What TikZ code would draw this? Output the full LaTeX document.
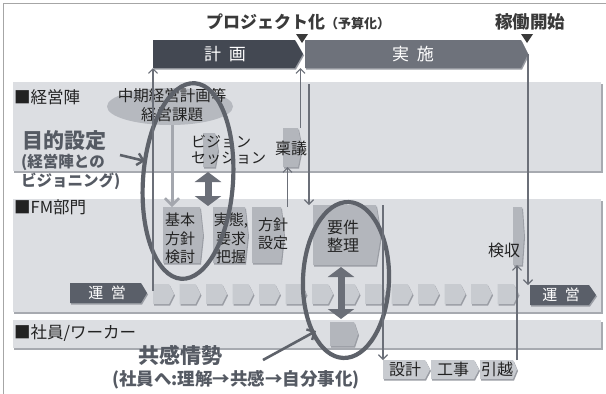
\documentclass[tikz,border=0pt]{standalone}
\usepackage{fontspec}
\newfontfamily\jp{Noto Sans CJK JP}
\usetikzlibrary{arrows.meta,shapes.geometric,fit}
\definecolor{bandc}{HTML}{DCDEE2}
\definecolor{bandsh}{HTML}{A7AAB0}
\definecolor{boxc}{HTML}{B3B6BC}
\definecolor{smallc}{HTML}{C8CBD0}
\definecolor{shadc}{HTML}{9A9DA4}
\definecolor{planc}{HTML}{434852}
\definecolor{jissc}{HTML}{6E727B}
\definecolor{uneic}{HTML}{5A5F69}
\definecolor{ellfill}{HTML}{B6B9BF}
\definecolor{ellc}{HTML}{5E626A}
\definecolor{arrc}{HTML}{6B6F78}
\definecolor{lightarr}{HTML}{A4A7AE}
\definecolor{headc}{HTML}{555A63}
\definecolor{textc}{HTML}{222222}
\definecolor{titlec}{HTML}{3A3A3A}
\newcommand\fs[2]{\fontsize{#1}{#2}\selectfont}
% chevron box: [fill]{name}{x1}{y1}{x2}{y2}{tip}
\newcommand\chevbox[7][boxc]{%
  \fill[shadc] ({#3+1},{#4+1.5}) -- ({#5-#7+1},{#4+1.5}) -- ({#5+1},{(#4+#6)/2+1.5}) -- ({#5-#7+1},{#6+1.5}) -- ({#3+1},{#6+1.5}) -- cycle;
  \fill[#1] (#3,#4) -- ({#5-#7},#4) -- (#5,{(#4+#6)/2}) -- ({#5-#7},#6) -- (#3,#6) -- cycle;
  \path (#3,#4) coordinate (#2-nw) (#5,#6) coordinate (#2-se);
  \node[fit=(#2-nw)(#2-se), inner sep=0pt, outer sep=0pt] (#2) {};
}
\tikzset{
  txt/.style={inner sep=0pt, text=textc},
  thinarr/.style={draw=arrc, line width=1.3pt, -{Straight Barb[length=4.5pt,width=9pt,line width=1.2pt]}},
  lightarrow/.style={draw=lightarr, line width=3pt, -{Straight Barb[length=7pt,width=14pt,line width=2.5pt]}},
  dblarr/.style={draw=arrc, line width=7pt, {Triangle[length=10pt,width=26pt]}-{Triangle[length=10pt,width=26pt]}},
  fatarr/.style={draw=ellc, line width=2.6pt, -{Straight Barb[length=6pt,width=12pt,line width=2.4pt]}},
  bigell/.style={draw=ellc, line width=4.2pt},
}
\begin{document}
\begin{tikzpicture}[x=1pt,y=-1pt]
\useasboundingbox (0,0) rectangle (606,394);
\fill[white] (0,0) rectangle (606,394);
% frame
\draw[gray!70, line width=0.8pt] (3,394) -- (3,3) -- (606,3);

% bands
\fill[bandsh] (14,84) rectangle (603,173);
\fill[bandc] (13,82) rectangle (601,171);
\fill[bandsh] (14,201) rectangle (603,314);
\fill[bandc] (13,199) rectangle (601,312);
\fill[bandsh] (14,322) rectangle (603,350);
\fill[bandc] (13,320) rectangle (601,348);

% header
\node[txt, anchor=west, text=titlec, font=\jp\bfseries\fs{17}{17}] (proj) at (206,22) {プロジェクト化\fs{13}{13}（予算化）};
\node[txt, text=titlec, font=\jp\bfseries\fs{17.5}{17.5}] (kado) at (530,22) {稼働開始};
\fill[titlec] (296,34) -- (308,34) -- (302,43) -- cycle;
\fill[titlec] (521,34) -- (533,34) -- (527,43) -- cycle;

\chevbox[planc]{plan}{153}{40}{303}{68}{8}
\chevbox[jissc]{jisshi}{305}{40}{528}{68}{7}
\node[txt, text=white, font=\jp\fs{17}{17}] (plant) at (225,54) {計\hspace{0.45em}画};
\node[txt, text=white, font=\jp\fs{17}{17}] (jisst) at (413,54) {実\hspace{0.45em}施};

% row 1: 経営陣
\node[txt, anchor=west, font=\jp\fs{16.5}{16.5}] (l1) at (14,97) {■経営陣};
\node[ellipse, fill=ellfill, minimum width=126pt, minimum height=37pt, inner sep=0pt] (chuki) at (170,106.5) {};
\node[txt, align=center, font=\jp\fs{15.5}{19}] (chukit) at (172,105) {中期経営計画等\\経営課題};
\node[txt, anchor=west, text=headc, font=\jp\bfseries\fs{21}{21}] (mokuteki) at (22,141) {目的設定};
\node[txt, anchor=west, text=headc, font=\jp\bfseries\fs{15.5}{15.5}] (mok2) at (21,162) {(経営陣との};
\node[txt, anchor=west, text=headc, font=\jp\bfseries\fs{15.5}{15.5}] (mok3) at (21,181) {ビジョニング)};
\chevbox{vision}{203}{133}{218}{167}{3}
\node[txt, anchor=west, align=left, font=\jp\fs{15}{15.5}] (visiont) at (191,150) {ビジョン\\セッション};
\chevbox{ringi}{283}{128}{302}{167}{4}
\node[txt, font=\jp\fs{16}{16}] (ringit) at (291,148) {稟議};

% row 2: FM
\node[txt, anchor=west, font=\jp\fs{16.5}{16.5}] (l2) at (14,207) {■FM部門};
\chevbox{kihon}{163}{207}{203}{263}{3}
\node[txt, align=center, font=\jp\fs{15}{18.5}] (kihont) at (180,238.5) {基本\\方針\\検討};
\chevbox{jittai}{213}{207}{248}{263}{3}
\node[txt, align=center, font=\jp\fs{15}{18.5}] (jittait) at (231,238.5) {実態,\\要求\\把握};
\chevbox{hoshin}{252}{207}{284}{263}{3}
\node[txt, align=center, font=\jp\fs{15}{18}] (hoshint) at (273,234) {方針\\設定};
\chevbox{youken}{313}{205}{381}{265}{5}
\node[txt, align=center, font=\jp\fs{16}{18}] (youkent) at (343,236) {要件\\整理};
\chevbox{kenshu}{513}{207}{524}{265}{2}
\node[txt, font=\jp\fs{16}{16}] (kenshut) at (504,250) {検収};

% operation row
\chevbox[uneic]{unei1}{70}{283}{147}{303}{6}
\node[txt, text=white, font=\jp\fs{15}{15}] (unei1t) at (107,293) {運\hspace{0.5em}営};
\foreach \k in {0,...,13}{
  \pgfmathsetmacro\xa{153+26.5*\k}
  \pgfmathsetmacro\xb{\xa+21}
  \chevbox[smallc]{c\k}{\xa}{284}{\xb}{304}{5}
}
\chevbox[uneic]{unei2}{530}{285}{596}{305}{7}
\node[txt, text=white, font=\jp\fs{15}{15}] (unei2t) at (561,295) {運\hspace{0.5em}営};

% row 3: 社員
\node[txt, anchor=west, font=\jp\fs{16.5}{16.5}] (l3) at (14,333) {■社員/ワーカー};
\chevbox{shain}{330}{322}{358}{346}{4}
\node[txt, text=headc, font=\jp\bfseries\fs{21}{21}] (kyokan) at (180,355) {共感情勢};
\node[txt, text=headc, font=\jp\bfseries\fs{17.5}{17.5}] (kyokan2) at (236,380) {(社員へ:理解→共感→自分事化)};
\chevbox[smallc]{sekkei}{383}{360}{430}{379}{5}
\node[txt, font=\jp\fs{16}{16}] (sekkeit) at (405,369) {設計};
\chevbox[smallc]{kouji}{431}{360}{479}{379}{5}
\node[txt, font=\jp\fs{16}{16}] (koujit) at (453,369) {工事};
\chevbox[smallc]{hikkoshi}{480}{360}{517}{379}{4}
\node[txt, font=\jp\fs{16}{16}] (hikkoshit) at (497,369) {引越};

% big ellipses
\draw[bigell, rotate around={-4:(188,181)}] (188,181) ellipse [x radius=45, y radius=98];
\draw[bigell, rotate around={-2:(346,280)}] (346,280) ellipse [x radius=43, y radius=78];

% connectors
\coordinate (a1s) at (153,291);
\draw[thinarr] (a1s) -- (a1s |- plan.south);
\draw[thinarr] ([xshift=-1.5pt]ringi.north east) -- ([xshift=-1.5pt]ringi.north east |- plan.south);
\coordinate (a3s) at (309,84);
\draw[thinarr] (a3s) -- (a3s |- youken.north);
\draw[thinarr] ([xshift=-5pt]ringi.south |- hoshin.north) -- ([xshift=-5pt]ringi.south);
\draw[thinarr] (jisshi.east) -- (jisshi.east |- unei2.north);
\draw[thinarr] (hikkoshi.north east) -- (hikkoshi.north east |- kenshu.south);
\draw[thinarr] ([xshift=2pt]youken.north east) -- ([xshift=2pt]youken.north east |- sekkei.north);
\draw[lightarrow] ([xshift=2pt]chuki.south) -- ([xshift=2pt]chuki.south |- kihon.north);
\coordinate (d1t) at (208,172);
\coordinate (d1b) at (208,206);
\draw[dblarr] (d1t) -- (d1b);
\coordinate (d2t) at (341,267);
\coordinate (d2b) at (341,319);
\draw[dblarr] (d2t) -- (d2b);
\coordinate (m1) at (120,155);
\coordinate (m2) at (145,161);
\draw[fatarr] (m1) -- (m2);
\coordinate (k1) at (263,360);
\coordinate (k2) at (316,331);
\draw[fatarr] (k1) -- (k2);
\end{tikzpicture}
\end{document}
